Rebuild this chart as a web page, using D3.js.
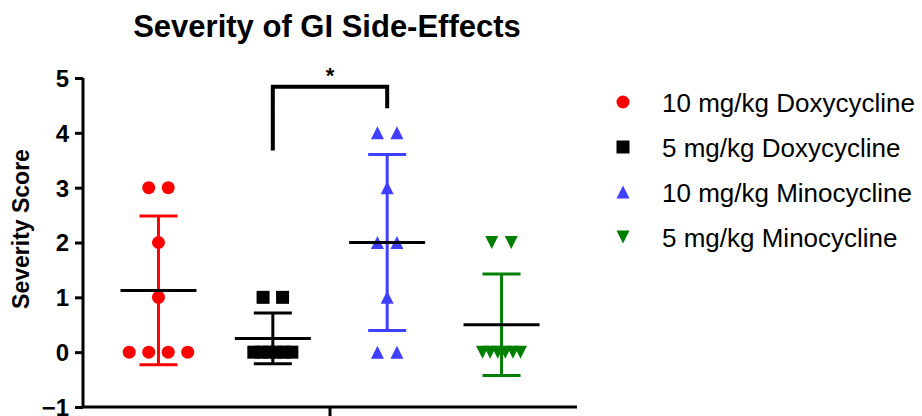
<!DOCTYPE html>
<html>
<head>
<meta charset="utf-8">
<script src="https://cdn.jsdelivr.net/npm/d3@7"></script>
<style>
  body { margin: 0; background: #fff; }
  svg { display: block; font-family: "Liberation Sans", Arial, sans-serif; }
</style>
</head>
<body>
<svg id="chart" width="922" height="416"></svg>
<script>
// Data
const groups = ["10 mg/kg Doxycycline", "5 mg/kg Doxycycline", "10 mg/kg Minocycline", "5 mg/kg Minocycline"];
const doxy10 = [0, 0, 0, 0, 1, 2, 3, 3];
const doxy5 = [0, 0, 0, 0, 0, 0, 1, 1];
const mino10 = [0, 0, 1, 2, 2, 3, 4, 4];
const mino5 = [0, 0, 0, 0, 0, 0, 2, 2];
const seriesValues = [doxy10, doxy5, mino10, mino5];
const colors = ["#ff0000", "#000000", "#3f3fff", "#007f00"];
const shapes = ["circle", "square", "up", "down"];
const yTicks = [-1, 0, 1, 2, 3, 4, 5];
// significance bracket between group 1 and group 2 (in data units)
const bracket = { from: 1, to: 2, top: 4.84, leftEnd: 3.68, rightEnd: 4.45, label: "*" };

const svg = d3.select("#chart");

const x = d3.scalePoint().domain(groups).range([83, 577]).padding(0.66);
const y = d3.scaleLinear().domain([-1, 5]).range([407, 78]);

// marker path generator
function markerPath(shape, s = 13) {
  const h = s / 2;
  if (shape === "circle") return d3.symbol(d3.symbolCircle, Math.PI * h * h)();
  if (shape === "square") return `M${-h},${-h}H${h}V${h}H${-h}Z`;
  if (shape === "up") return `M0,${-h}L${h},${h}L${-h},${h}Z`;
  return `M0,${h}L${h},${-h}L${-h},${-h}Z`;
}

// spread duplicates horizontally like a column scatter
function spread(values) {
  const counts = d3.rollup(values, v => v.length, d => d);
  const seen = new Map();
  return values.map(v => {
    const k = counts.get(v);
    const i = seen.get(v) || 0;
    seen.set(v, i + 1);
    const step = k > 4 ? 7.6 : 19.5;
    return { v, dx: (i - (k - 1) / 2) * step };
  });
}

// Title
svg.append("text")
  .attr("x", 327).attr("y", 37)
  .attr("text-anchor", "middle")
  .attr("font-size", 31).attr("font-weight", "bold")
  .text("Severity of GI Side-Effects");

// Y axis
const yAxis = svg.append("g").attr("transform", "translate(83,0)")
  .call(d3.axisLeft(y).tickValues(yTicks).tickSize(8).tickPadding(6).tickFormat(d3.format("d")));
yAxis.select(".domain").attr("stroke-width", 3).attr("d", `M0,${y(5)}V${y(-1)}`);
yAxis.selectAll(".tick line").attr("stroke-width", 3);
yAxis.selectAll(".tick text")
  .attr("font-size", 24).attr("font-weight", "bold")
  .attr("font-family", "Liberation Sans, Arial, sans-serif")
  .attr("dy", "0.35em");

svg.append("text")
  .attr("transform", "translate(29,229) rotate(-90)")
  .attr("text-anchor", "middle")
  .attr("font-size", 23).attr("font-weight", "bold")
  .text("Severity Score");

// X axis with one centre tick
svg.append("line")
  .attr("x1", 83).attr("x2", 577)
  .attr("y1", y(-1)).attr("y2", y(-1))
  .attr("stroke", "#000").attr("stroke-width", 3);
svg.append("line")
  .attr("x1", (83 + 577) / 2).attr("x2", (83 + 577) / 2)
  .attr("y1", y(-1)).attr("y2", y(-1) + 10)
  .attr("stroke", "#000").attr("stroke-width", 3);

// Columns
groups.forEach((g, gi) => {
  const vals = seriesValues[gi];
  const cx = x(g);
  const mean = d3.mean(vals);
  const sd = d3.deviation(vals);
  const col = svg.append("g");

  col.selectAll("path.pt")
    .data(spread(vals))
    .join("path")
    .attr("class", "pt")
    .attr("d", markerPath(shapes[gi]))
    .attr("transform", d => `translate(${cx + d.dx},${y(d.v)})`)
    .attr("fill", colors[gi]);

  // error bar
  col.append("line")
    .attr("x1", cx).attr("x2", cx)
    .attr("y1", y(mean + sd)).attr("y2", y(mean - sd))
    .attr("stroke", colors[gi]).attr("stroke-width", 3);
  [mean + sd, mean - sd].forEach(v => {
    col.append("line")
      .attr("x1", cx - 19).attr("x2", cx + 19)
      .attr("y1", y(v)).attr("y2", y(v))
      .attr("stroke", colors[gi]).attr("stroke-width", 3);
  });
  // mean line
  col.append("line")
    .attr("x1", cx - 38).attr("x2", cx + 38)
    .attr("y1", y(mean)).attr("y2", y(mean))
    .attr("stroke", "#000").attr("stroke-width", 3);
});

// Significance bracket
const bx1 = x(groups[bracket.from]), bx2 = x(groups[bracket.to]);
svg.append("path")
  .attr("d", `M${bx1},${y(bracket.leftEnd)}V${y(bracket.top)}H${bx2}V${y(bracket.rightEnd)}`)
  .attr("fill", "none").attr("stroke", "#000").attr("stroke-width", 4);
svg.append("text")
  .attr("x", (bx1 + bx2) / 2).attr("y", y(bracket.top) - 4)
  .attr("text-anchor", "middle")
  .attr("font-size", 22).attr("font-weight", "bold")
  .text(bracket.label);

// Legend
const legend = svg.append("g").attr("transform", "translate(623,102)");
groups.forEach((g, i) => {
  const row = legend.append("g").attr("transform", `translate(0,${i * 45})`);
  row.append("path").attr("d", markerPath(shapes[i])).attr("fill", colors[i]);
  row.append("text")
    .attr("x", 39).attr("y", 10)
    .attr("font-size", 26)
    .text(g);
});
</script>
</body>
</html>
